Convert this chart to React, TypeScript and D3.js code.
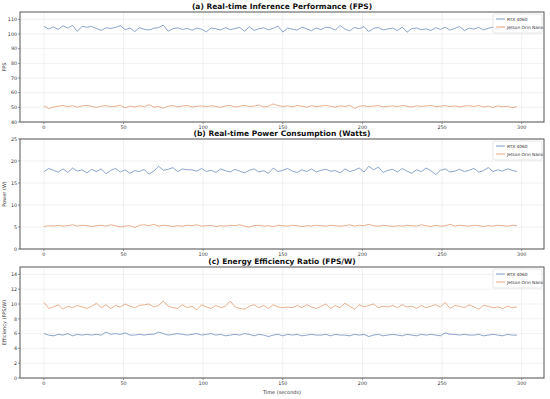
import React from 'react';
import * as d3 from 'd3';

const rtxFps = [
  105.2, 103.4, 104.8, 103.1, 105.6, 104.0, 105.9, 101.8, 105.3, 104.6,
  105.1, 103.7, 102.5, 104.2, 103.8, 104.5, 105.7, 102.9, 104.1, 101.6,
  104.3, 103.2, 102.7, 103.9, 104.4, 106.1, 101.9, 103.6, 104.2, 103.1,
  103.8, 102.6, 104.0, 103.3, 101.5, 104.1, 103.5, 102.8, 104.3, 103.0,
  103.7, 104.5, 101.8, 104.9, 102.4, 103.6, 104.2, 102.9, 103.8, 105.4,
  101.3, 104.0, 103.3, 102.6, 104.7, 103.5, 102.2, 104.1, 103.0, 104.6,
  104.2, 102.7, 105.8, 103.4, 102.1, 104.5, 103.6, 105.0, 101.6, 103.9,
  104.4, 102.8, 103.5, 104.0, 102.3, 104.8, 101.2, 103.7, 104.1, 102.9,
  103.5, 102.4, 104.3, 103.1, 104.7, 102.6, 103.8, 105.1, 102.3, 104.0,
  103.4, 104.5, 102.8, 103.9, 104.6, 103.2, 104.8, 103.5, 102.6, 103.1,
];
const jetsonFps = [
  51.0, 49.2, 50.1, 50.8, 51.3, 50.4, 51.1, 50.2, 50.9, 51.4,
  50.6, 50.0, 50.8, 51.2, 50.3, 50.7, 51.5, 49.6, 50.9, 50.2,
  51.0, 50.5, 51.8, 50.1, 50.6, 49.4, 50.8, 51.2, 50.3, 50.9,
  51.3, 50.2, 50.7, 51.0, 50.4, 51.1, 50.6, 50.0, 50.9, 51.3,
  50.2, 50.8, 51.4, 50.5, 50.9, 51.6, 50.3, 50.7, 52.3, 51.2,
  50.6, 51.0, 50.4, 51.3, 50.8, 50.1, 51.1, 50.5, 50.9, 51.4,
  50.7, 50.2, 51.0, 50.6, 51.5, 49.3, 50.8, 51.1, 50.4, 50.9,
  51.2, 50.3, 50.7, 51.0, 50.5, 51.3, 50.8, 50.2, 51.1, 50.6,
  50.9, 51.4, 50.4, 50.8, 51.2, 50.5, 51.0, 50.3, 50.9, 51.1,
  50.6, 51.3, 50.2, 50.8, 49.9, 51.0, 50.4, 50.7, 49.8, 50.5,
];
const rtxPower = [
  17.6, 18.3, 17.9, 17.5, 18.2, 17.4, 18.4, 17.7, 18.0, 17.3,
  18.1, 17.6, 18.2, 17.1, 17.9, 18.3, 17.5, 18.0, 17.2, 17.8,
  17.6, 18.1, 17.0, 17.7, 18.8, 17.9, 18.1, 18.5, 17.6, 18.2,
  18.0, 18.0, 17.7, 18.3, 17.6, 17.9, 17.4, 18.2, 17.8, 17.5,
  18.1, 17.7, 17.3, 17.9, 18.2, 17.5, 17.8, 17.2, 18.4, 17.6,
  17.9, 18.3, 17.7, 17.4, 18.0, 17.6, 18.2, 17.5, 17.9, 18.1,
  17.7, 17.8, 17.3, 18.2, 17.6, 17.9, 18.4, 17.5, 18.8, 18.0,
  18.6, 17.4, 17.9, 18.1, 17.5, 18.3, 17.7, 17.2, 18.0, 17.6,
  18.4, 17.8, 16.9, 17.9, 18.2, 17.5, 17.7, 18.1, 17.6, 17.9,
  18.3, 17.5, 17.8, 18.5, 17.6, 18.0, 17.7, 18.2, 17.9, 17.6,
];
const jetsonPower = [
  5.1, 5.3, 5.2, 5.4, 5.2, 5.3, 5.5, 5.2, 5.4, 5.3,
  5.1, 5.3, 5.4, 5.2, 5.5, 5.3, 5.0, 5.2, 5.3, 4.9,
  5.4, 5.5, 5.3, 5.6, 5.2, 5.4, 5.3, 5.1, 5.3, 5.2,
  5.4, 5.3, 5.5, 5.2, 5.3, 5.4, 5.1, 5.3, 5.2, 5.4,
  5.3, 5.5, 5.2, 5.0, 5.3, 5.4, 5.2, 5.3, 5.1, 5.4,
  5.3, 5.2, 5.4, 5.3, 5.1, 5.3, 5.2, 5.4, 5.3, 5.2,
  5.4, 5.3, 5.2, 5.3, 5.5, 5.2, 5.4, 5.3, 5.6, 5.3,
  5.2, 5.4, 5.3, 5.1, 5.3, 5.2, 5.4, 5.3, 5.2, 5.5,
  5.3, 5.1, 5.4, 5.2, 5.3, 5.6, 5.2, 5.4, 5.3, 5.2,
  5.4, 5.3, 5.1, 5.3, 5.2, 5.4, 5.3, 5.2, 5.4, 5.3,
];
const rtxEff = [
  6.0, 5.8, 5.7, 5.9, 5.8, 6.0, 5.7, 5.9, 5.8, 5.9,
  5.8, 5.9, 5.8, 6.2, 5.9, 6.0, 5.9, 6.1, 5.8, 5.8,
  5.9, 5.8, 5.9, 5.9, 6.2, 6.0, 5.8, 5.9, 6.0, 5.9,
  5.8, 5.9, 6.0, 5.8, 5.9, 6.0, 5.8, 5.9, 5.7, 5.8,
  5.9, 5.8, 6.0, 5.9, 5.7, 5.9, 5.8, 5.6, 5.8, 5.9,
  5.7, 5.9, 5.8, 5.9, 5.7, 5.8, 5.9, 5.8, 5.8, 5.9,
  5.7, 5.9, 5.8, 5.8, 5.7, 5.9, 5.8, 5.9, 5.6, 5.8,
  5.9, 5.7, 5.8, 5.9, 5.8, 5.7, 5.9, 5.8, 5.7, 5.9,
  5.8, 5.9, 5.8, 5.7, 6.1, 5.9, 5.9, 5.8, 5.9, 5.8,
  5.8, 5.9, 5.7, 5.8, 5.9, 5.8, 5.7, 5.9, 5.8, 5.8,
];
const jetsonEff = [
  10.2, 9.4, 9.6, 9.9, 9.3, 9.7, 9.5, 9.8, 9.6, 9.4,
  9.7, 10.1, 9.5, 9.9, 9.4, 9.8, 9.6, 10.0, 9.7, 9.5,
  9.8, 9.9, 10.0, 9.6, 9.8, 10.4, 9.7, 9.5, 9.4, 9.9,
  9.5, 9.7, 9.2, 9.9, 9.6, 9.4, 9.8, 9.5, 9.7, 10.4,
  9.6, 9.4, 9.3, 9.7, 9.9, 9.5, 9.8, 9.4, 9.9, 9.6,
  9.5, 9.6, 9.5, 9.8, 9.5, 9.9, 9.6, 9.4, 9.7, 10.0,
  9.4, 9.8, 9.5, 10.1, 9.7, 9.3, 9.9, 9.6, 9.8, 10.0,
  9.5, 9.7, 9.6, 9.8, 9.5, 9.9, 9.6, 9.7, 9.4, 9.8,
  9.5, 9.7, 9.9, 9.6, 10.2, 9.4, 9.8, 9.7, 9.5, 9.9,
  9.6, 9.3, 9.8, 9.7, 9.5, 9.6, 9.4, 9.7, 9.5, 9.6,
];

const times = d3.range(rtxFps.length).map(i => i * 3);
const seriesNames = ['RTX 4060', 'Jetson Orin Nano'];
const colors = ['#4c72b0', '#dd8452'];
const xTicks = [0, 50, 100, 150, 200, 250, 300];

const panels = [
  { title: '(a) Real-time Inference Performance (FPS)', ylabel: 'FPS', top: 12, bottom: 122, domain: [40, 115], ticks: d3.range(40, 111, 10), series: [rtxFps, jetsonFps] },
  { title: '(b) Real-time Power Consumption (Watts)', ylabel: 'Power (W)', top: 139, bottom: 249, domain: [0, 25], ticks: d3.range(0, 26, 5), series: [rtxPower, jetsonPower] },
  { title: '(c) Energy Efficiency Ratio (FPS/W)', ylabel: 'Efficiency (FPS/W)', top: 267, bottom: 378, domain: [0, 15], ticks: d3.range(0, 15, 2), series: [rtxEff, jetsonEff] },
];

const left = 20;
const right = 544;
const font = 'DejaVu Sans, sans-serif';

const x = d3.scaleLinear().domain([-15, 314]).range([left, right]);

const Panel = ({ p, last }: { p: typeof panels[0]; last: boolean }) => {
  const y = d3.scaleLinear().domain(p.domain).range([p.bottom, p.top]);
  const line = d3.line<number>().x((_, i) => x(times[i])).y(d => y(d));
  const mid = (left + right) / 2;
  return (
    <g>
      {/* grid */}
      {xTicks.map(t => (
        <line key={'gx' + t} x1={x(t)} x2={x(t)} y1={p.top} y2={p.bottom} stroke="#b0b0b0" strokeOpacity={0.3} strokeWidth={0.6} />
      ))}
      {p.ticks.map(t => (
        <line key={'gy' + t} x1={left} x2={right} y1={y(t)} y2={y(t)} stroke="#b0b0b0" strokeOpacity={0.3} strokeWidth={0.6} />
      ))}
      {/* lines */}
      {p.series.map((s, k) => (
        <path key={k} d={line(s) || ''} fill="none" stroke={colors[k]} strokeOpacity={0.8} strokeWidth={0.8} />
      ))}
      {/* frame */}
      <rect x={left} y={p.top} width={right - left} height={p.bottom - p.top} fill="none" stroke="#555" strokeWidth={1} />
      {/* x ticks */}
      {xTicks.map(t => (
        <g key={'xt' + t}>
          <line x1={x(t)} x2={x(t)} y1={p.bottom} y2={p.bottom + 2} stroke="#555" strokeWidth={0.6} />
          <text x={x(t)} y={p.bottom + 6.8} fontSize={4.8} fontFamily={font} textAnchor="middle" fill="#333">{t}</text>
        </g>
      ))}
      {/* y ticks */}
      {p.ticks.map(t => (
        <g key={'yt' + t}>
          <line x1={left - 2} x2={left} y1={y(t)} y2={y(t)} stroke="#555" strokeWidth={0.6} />
          <text x={left - 3} y={y(t) + 1.7} fontSize={4.8} fontFamily={font} textAnchor="end" fill="#333">{t}</text>
        </g>
      ))}
      <text x={6} y={(p.top + p.bottom) / 2} fontSize={5} fontFamily={font} textAnchor="middle" fill="#333"
        transform={`rotate(-90, 6, ${(p.top + p.bottom) / 2})`}>{p.ylabel}</text>
      <text x={mid} y={p.top - 3} fontSize={7.5} fontWeight="bold" fontFamily={font} textAnchor="middle" fill="#111">{p.title}</text>
      {last && (
        <text x={mid} y={p.bottom + 16} fontSize={5} fontFamily={font} textAnchor="middle" fill="#333">Time (seconds)</text>
      )}
      {/* legend */}
      <rect x={493} y={p.top + 2} width={49} height={19} rx={1.5} fill="#fff" fillOpacity={0.8} stroke="#ccc" strokeWidth={0.5} />
      {seriesNames.map((n, k) => (
        <g key={n}>
          <line x1={496} x2={505} y1={p.top + 7 + k * 8} y2={p.top + 7 + k * 8} stroke={colors[k]} strokeOpacity={0.8} strokeWidth={0.9} />
          <text x={507} y={p.top + 8.6 + k * 8} fontSize={4.3} fontFamily={font} fill="#333">{n}</text>
        </g>
      ))}
    </g>
  );
};

export default function App() {
  return (
    <svg width={550} height={399} style={{ position: 'absolute', left: 0, top: 0, background: '#fff' }}>
      {panels.map((p, i) => (
        <Panel key={i} p={p} last={i === panels.length - 1} />
      ))}
    </svg>
  );
}
